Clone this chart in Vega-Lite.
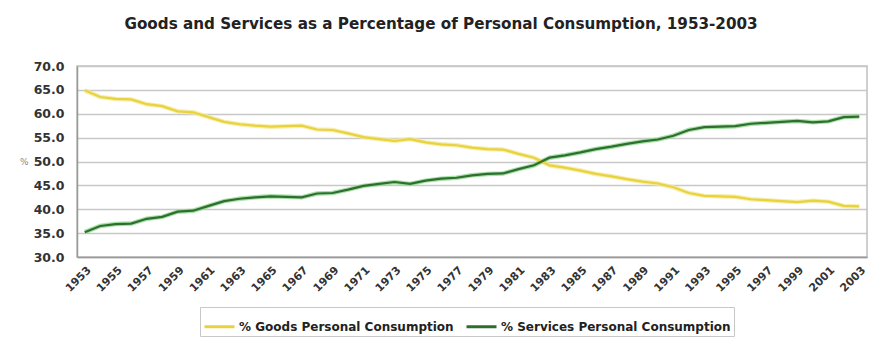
{
  "$schema": "https://vega.github.io/schema/vega-lite/v6.json",
  "autosize": {"type": "none"},
  "width": 790,
  "height": 191,
  "padding": {"left": 77, "top": 66, "right": 15, "bottom": 82},
  "background": "white",
  "title": {
    "text": "Goods and Services as a Percentage of Personal Consumption, 1953-2003",
    "font": "DejaVu Sans",
    "fontSize": 15.2,
    "fontWeight": "bold",
    "color": "#222222",
    "anchor": "middle",
    "dx": -31,
    "offset": 28
  },
  "config": {
    "view": {"stroke": "#c0c0c0", "strokeWidth": 1.5},
    "font": "DejaVu Sans"
  },
  "data": {
    "values": [
      {"year": 1953, "% Goods Personal Consumption": 64.9, "% Services Personal Consumption": 35.2},
      {"year": 1954, "% Goods Personal Consumption": 63.5, "% Services Personal Consumption": 36.5},
      {"year": 1955, "% Goods Personal Consumption": 63.1, "% Services Personal Consumption": 36.9},
      {"year": 1956, "% Goods Personal Consumption": 63.0, "% Services Personal Consumption": 37.0},
      {"year": 1957, "% Goods Personal Consumption": 62.0, "% Services Personal Consumption": 38.0},
      {"year": 1958, "% Goods Personal Consumption": 61.6, "% Services Personal Consumption": 38.4},
      {"year": 1959, "% Goods Personal Consumption": 60.5, "% Services Personal Consumption": 39.5},
      {"year": 1960, "% Goods Personal Consumption": 60.3, "% Services Personal Consumption": 39.7},
      {"year": 1961, "% Goods Personal Consumption": 59.3, "% Services Personal Consumption": 40.7},
      {"year": 1962, "% Goods Personal Consumption": 58.3, "% Services Personal Consumption": 41.7},
      {"year": 1963, "% Goods Personal Consumption": 57.8, "% Services Personal Consumption": 42.2},
      {"year": 1964, "% Goods Personal Consumption": 57.5, "% Services Personal Consumption": 42.5},
      {"year": 1965, "% Goods Personal Consumption": 57.3, "% Services Personal Consumption": 42.7},
      {"year": 1966, "% Goods Personal Consumption": 57.4, "% Services Personal Consumption": 42.6},
      {"year": 1967, "% Goods Personal Consumption": 57.5, "% Services Personal Consumption": 42.5},
      {"year": 1968, "% Goods Personal Consumption": 56.7, "% Services Personal Consumption": 43.3},
      {"year": 1969, "% Goods Personal Consumption": 56.6, "% Services Personal Consumption": 43.4},
      {"year": 1970, "% Goods Personal Consumption": 55.9, "% Services Personal Consumption": 44.1},
      {"year": 1971, "% Goods Personal Consumption": 55.1, "% Services Personal Consumption": 44.9},
      {"year": 1972, "% Goods Personal Consumption": 54.7, "% Services Personal Consumption": 45.3},
      {"year": 1973, "% Goods Personal Consumption": 54.3, "% Services Personal Consumption": 45.7},
      {"year": 1974, "% Goods Personal Consumption": 54.7, "% Services Personal Consumption": 45.3},
      {"year": 1975, "% Goods Personal Consumption": 54.0, "% Services Personal Consumption": 46.0},
      {"year": 1976, "% Goods Personal Consumption": 53.6, "% Services Personal Consumption": 46.4},
      {"year": 1977, "% Goods Personal Consumption": 53.4, "% Services Personal Consumption": 46.6},
      {"year": 1978, "% Goods Personal Consumption": 52.9, "% Services Personal Consumption": 47.1},
      {"year": 1979, "% Goods Personal Consumption": 52.6, "% Services Personal Consumption": 47.4},
      {"year": 1980, "% Goods Personal Consumption": 52.5, "% Services Personal Consumption": 47.5},
      {"year": 1981, "% Goods Personal Consumption": 51.6, "% Services Personal Consumption": 48.4},
      {"year": 1982, "% Goods Personal Consumption": 50.8, "% Services Personal Consumption": 49.2},
      {"year": 1983, "% Goods Personal Consumption": 49.2, "% Services Personal Consumption": 50.8},
      {"year": 1984, "% Goods Personal Consumption": 48.7, "% Services Personal Consumption": 51.3},
      {"year": 1985, "% Goods Personal Consumption": 48.1, "% Services Personal Consumption": 51.9},
      {"year": 1986, "% Goods Personal Consumption": 47.4, "% Services Personal Consumption": 52.6},
      {"year": 1987, "% Goods Personal Consumption": 46.9, "% Services Personal Consumption": 53.1},
      {"year": 1988, "% Goods Personal Consumption": 46.3, "% Services Personal Consumption": 53.7},
      {"year": 1989, "% Goods Personal Consumption": 45.8, "% Services Personal Consumption": 54.2},
      {"year": 1990, "% Goods Personal Consumption": 45.4, "% Services Personal Consumption": 54.6},
      {"year": 1991, "% Goods Personal Consumption": 44.6, "% Services Personal Consumption": 55.4},
      {"year": 1992, "% Goods Personal Consumption": 43.4, "% Services Personal Consumption": 56.6},
      {"year": 1993, "% Goods Personal Consumption": 42.8, "% Services Personal Consumption": 57.2},
      {"year": 1994, "% Goods Personal Consumption": 42.7, "% Services Personal Consumption": 57.3},
      {"year": 1995, "% Goods Personal Consumption": 42.6, "% Services Personal Consumption": 57.4},
      {"year": 1996, "% Goods Personal Consumption": 42.1, "% Services Personal Consumption": 57.9},
      {"year": 1997, "% Goods Personal Consumption": 41.9, "% Services Personal Consumption": 58.1},
      {"year": 1998, "% Goods Personal Consumption": 41.7, "% Services Personal Consumption": 58.3},
      {"year": 1999, "% Goods Personal Consumption": 41.5, "% Services Personal Consumption": 58.5},
      {"year": 2000, "% Goods Personal Consumption": 41.8, "% Services Personal Consumption": 58.2},
      {"year": 2001, "% Goods Personal Consumption": 41.6, "% Services Personal Consumption": 58.4},
      {"year": 2002, "% Goods Personal Consumption": 40.7, "% Services Personal Consumption": 59.3},
      {"year": 2003, "% Goods Personal Consumption": 40.6, "% Services Personal Consumption": 59.4}
    ]
  },
  "transform": [
    {"fold": ["% Goods Personal Consumption", "% Services Personal Consumption"], "as": ["series", "value"]}
  ],
  "encoding": {
    "x": {
      "field": "year",
      "type": "ordinal",
      "scale": {"type": "point", "padding": 0.5},
      "axis": {
        "title": null,
        "values": [1953,1955,1957,1959,1961,1963,1965,1967,1969,1971,1973,1975,1977,1979,1981,1983,1985,1987,1989,1991,1993,1995,1997,1999,2001,2003],
        "labelAngle": -45,
        "labelFont": "DejaVu Sans",
        "labelFontSize": 11,
        "labelFontWeight": "bold",
        "labelColor": "#333333",
        "labelPadding": 7,
        "ticks": false,
        "domainColor": "#999999",
        "domainWidth": 1.5,
        "grid": false
      }
    },
    "y": {
      "field": "value",
      "type": "quantitative",
      "scale": {"domain": [30, 70], "nice": false, "zero": false},
      "axis": {
        "title": "%",
        "titleAngle": 0,
        "titleX": -49,
        "titleY": 95,
        "titleAlign": "right",
        "titleBaseline": "middle",
        "titleFont": "DejaVu Sans",
        "titleFontSize": 9,
        "titleFontWeight": "normal",
        "titleColor": "#888888",
        "values": [30,35,40,45,50,55,60,65,70],
        "format": ".1f",
        "labelFont": "DejaVu Sans",
        "labelFontSize": 12.5,
        "labelFontWeight": "bold",
        "labelColor": "#333333",
        "labelPadding": 13,
        "ticks": false,
        "domainColor": "#999999",
        "domainWidth": 1.5,
        "gridColor": "#c8c8c8",
        "gridWidth": 1.5
      }
    }
  },
  "resolve": {"scale": {"color": "independent"}, "legend": {"color": "independent"}},
  "layer": [
    {
      "mark": {"type": "line", "strokeWidth": 4.5, "opacity": 0.8},
      "encoding": {
        "color": {
          "field": "series",
          "type": "nominal",
          "scale": {"domain": ["% Goods Personal Consumption", "% Services Personal Consumption"], "range": ["#f5ea9a", "#8fd88f"]},
          "legend": null
        }
      }
    },
    {
      "mark": {"type": "line", "strokeWidth": 2.2},
      "encoding": {
        "color": {
          "field": "series",
          "type": "nominal",
          "scale": {"domain": ["% Goods Personal Consumption", "% Services Personal Consumption"], "range": ["#e8d23e", "#2f6e2f"]},
          "legend": {
            "title": null,
            "orient": "none",
            "direction": "horizontal",
            "legendX": 123,
            "legendY": 241,
            "padding": 3,
            "strokeColor": "#c8c8c8",
            "symbolType": "stroke",
            "symbolSize": 900,
            "symbolStrokeWidth": 3,
            "labelFont": "DejaVu Sans",
            "labelFontSize": 12,
            "labelFontWeight": "bold",
            "labelColor": "#222222",
            "labelOffset": 3,
            "columnPadding": 6,
            "labelLimit": 300
          }
        }
      }
    }
  ]
}
